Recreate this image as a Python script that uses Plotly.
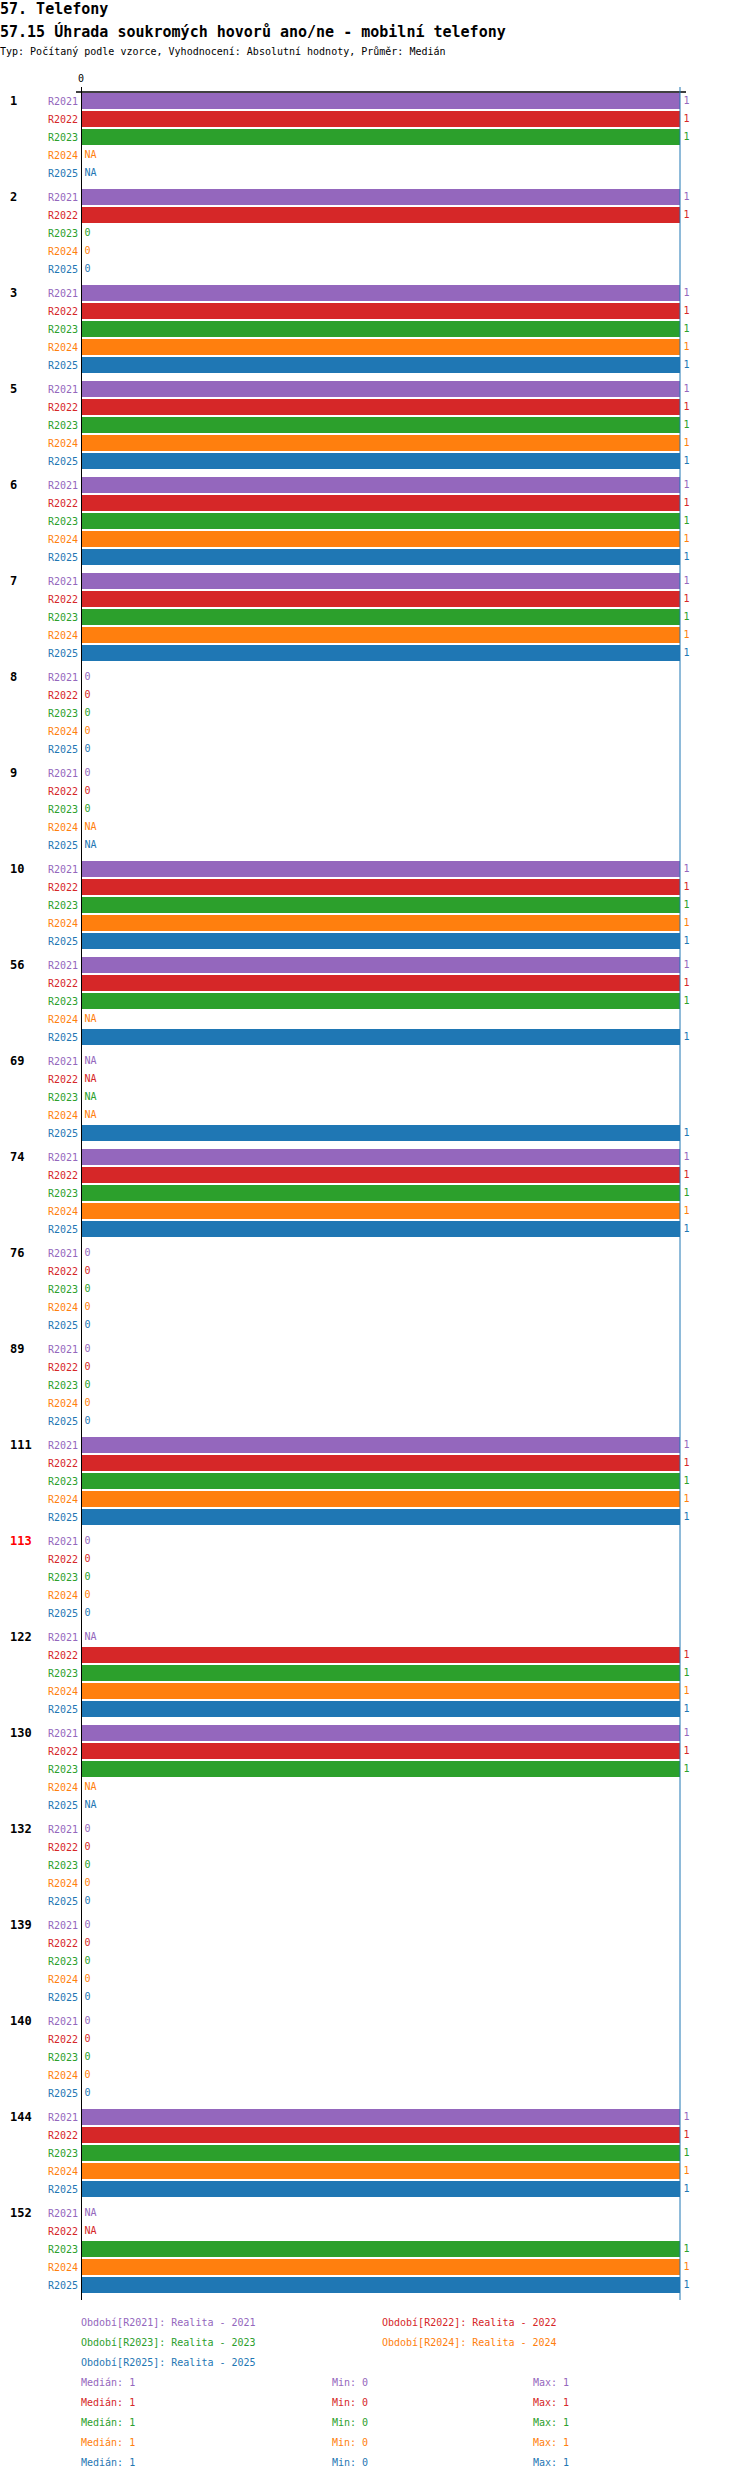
import numpy as np
import plotly.graph_objects as go

# ---- data ----
groups = ["1", "2", "3", "5", "6", "7", "8", "9", "10", "56", "69", "74", "76", "89",
          "111", "113", "122", "130", "132", "139", "140", "144", "152"]
highlight_groups = ["113"]
series = ["R2021", "R2022", "R2023", "R2024", "R2025"]
series_names = ["Realita - 2021", "Realita - 2022", "Realita - 2023", "Realita - 2024", "Realita - 2025"]
colors = ["#9467bd", "#d62728", "#2ca02c", "#ff7f0e", "#1f77b4"]
N = None
r2021 = [1, 1, 1, 1, 1, 1, 0, 0, 1, 1, N, 1, 0, 0, 1, 0, N, 1, 0, 0, 0, 1, N]
r2022 = [1, 1, 1, 1, 1, 1, 0, 0, 1, 1, N, 1, 0, 0, 1, 0, 1, 1, 0, 0, 0, 1, N]
r2023 = [1, 0, 1, 1, 1, 1, 0, 0, 1, 1, N, 1, 0, 0, 1, 0, 1, 1, 0, 0, 0, 1, 1]
r2024 = [N, 0, 1, 1, 1, 1, 0, N, 1, N, N, 1, 0, 0, 1, 0, 1, N, 0, 0, 0, 1, 1]
r2025 = [N, 0, 1, 1, 1, 1, 0, N, 1, 1, 1, 1, 0, 0, 1, 0, 1, N, 0, 0, 0, 1, 1]
values = [r2021, r2022, r2023, r2024, r2025]
median_line = 1

title1 = "57. Telefony"
title2 = "57.15 Úhrada soukromých hovorů ano/ne - mobilní telefony"
title3 = "Typ: Počítaný podle vzorce, Vyhodnocení: Absolutní hodnoty, Průměr: Medián"

# ---- layout geometry (pixels) ----
W, H = 750, 2480
L, R, T, B = 81, 686, 92, 2300
PW, PH = R - L, B - T
G = 16 / 3.0  # group step in bar units
FONT = "DejaVu Sans Mono"


def px(x):
    return (x - L) / PW


def py(y):
    return 1 - (y - T) / PH


fig = go.Figure()
tickvals, ticktext = [], []
for si, (s, vals, c) in enumerate(zip(series, values, colors)):
    ys = [gi * G + si for gi in range(len(groups))]
    fig.add_trace(go.Bar(
        x=[v if v is not None else None for v in vals], y=ys, orientation="h",
        marker=dict(color=c, line=dict(width=0)), width=0.88, showlegend=False,
        hoverinfo="skip"))
    fig.add_trace(go.Scatter(
        x=[v if v is not None else 0 for v in vals], y=ys, mode="markers+text",
        marker=dict(size=4, opacity=0, color=c),
        text=[str(v) if v is not None else "NA" for v in vals],
        textposition="middle right",
        textfont=dict(family=FONT, size=10, color=c), showlegend=False,
        hoverinfo="skip", cliponaxis=False))
    for y in ys:
        tickvals.append(y)
        ticktext.append(f'<span style="color:{c}">{s}</span>')

ymax = len(groups) * G - 0.5
fig.update_yaxes(range=[ymax, -0.5], tickvals=tickvals, ticktext=ticktext,
                 tickfont=dict(family=FONT, size=10), showgrid=False, zeroline=False,
                 showline=False, ticks="", ticklabelstandoff=2)
fig.update_xaxes(range=[0, 1.01], side="top", tickvals=[0], ticktext=["0"],
                 tickfont=dict(family=FONT, size=10, color="black"), showgrid=False,
                 zeroline=False, showline=False, ticks="", ticklabelstandoff=7)

shapes = [
    dict(type="line", xref="paper", yref="paper", x0=px(76), x1=px(686), y0=1, y1=1,
         line=dict(color="black", width=1.5)),
    dict(type="line", xref="x", yref="paper", x0=0, x1=0, y0=0, y1=py(87),
         line=dict(color="black", width=2)),
    dict(type="line", xref="x", yref="paper", x0=median_line, x1=median_line, y0=0, y1=py(87),
         line=dict(color="#1f77b4", width=1)),
]

ann = []


def text(x, y, t, color="black", size=10, anchor="left"):
    ann.append(dict(xref="paper", yref="paper", x=px(x), y=py(y), text=t, showarrow=False,
                    xanchor=anchor, yanchor="middle", borderpad=0,
                    font=dict(family=FONT, size=size, color=color)))


text(-1, 9, f"<b>{title1}</b>", size=15)
text(-1, 31, f"<b>{title2}</b>", size=15)
text(-1, 52, title3, size=10)

for gi, g in enumerate(groups):
    yc = T + (gi * G + 0.5) * (PH / (ymax + 0.5))
    text(9, yc, f"<b>{g}</b>", color="red" if g in highlight_groups else "black", size=12)

# legend block
leg_pos = [(80, 2322), (381, 2322), (80, 2342), (381, 2342), (80, 2362)]
for (x, y), s, n, c in zip(leg_pos, series, series_names, colors):
    text(x, y, f"Období[{s}]: {n}", color=c)

for si, (vals, c) in enumerate(zip(values, colors)):
    arr = np.array([v for v in vals if v is not None], dtype=float)
    y = 2382 + si * 20
    med = np.median(arr)
    fmt = lambda v: str(int(v)) if float(v).is_integer() else f"{v:g}"
    text(80, y, f"Medián: {fmt(med)}", color=c)
    text(331, y, f"Min: {fmt(arr.min())}", color=c)
    text(532, y, f"Max: {fmt(arr.max())}", color=c)

fig.update_layout(width=W, height=H, margin=dict(l=L, r=W - R, t=T, b=H - B),
                  plot_bgcolor="white", paper_bgcolor="white", barmode="overlay",
                  shapes=shapes, annotations=ann, font=dict(family=FONT))
fig.write_html("out.html", config={"displayModeBar": False},
               post_script="document.body.style.margin='0';")
